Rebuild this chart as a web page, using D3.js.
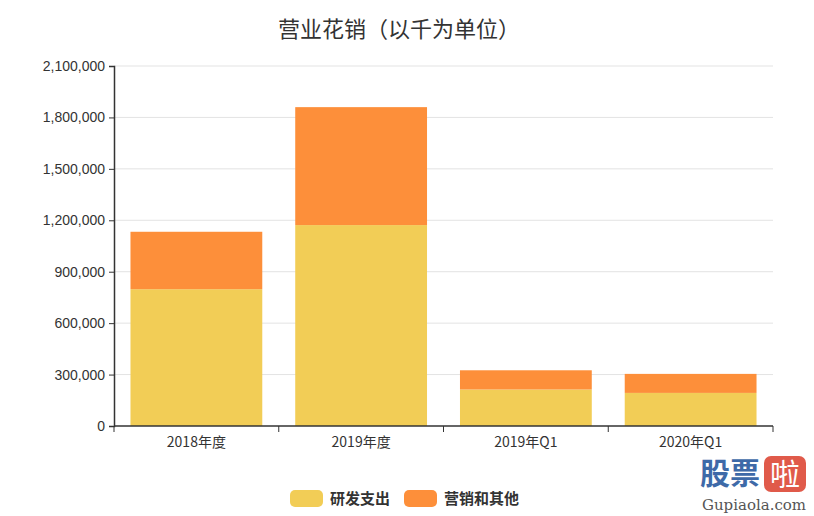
<!DOCTYPE html>
<html>
<head>
<meta charset="utf-8">
<script src="https://cdn.jsdelivr.net/npm/d3@7"></script>
<style>
    body { margin: 0; background: #fff; }
    text { font-family: "Noto Sans CJK SC", "Noto Sans", sans-serif; }
</style>
</head>
<body>
<div id="chart"></div>
<script>
// values in thousands
const categories = ['2018年度', '2019年度', '2019年Q1', '2020年Q1'];
const seriesNames = ['研发支出', '营销和其他'];
const research = [798000, 1172000, 213000, 193000];
const marketing = [335000, 688000, 112000, 111000];
const yTicks = [0, 300000, 600000, 900000, 1200000, 1500000, 1800000, 2100000];
const colors = ['#f2cd56', '#fd8f3a'];

const width = 814, height = 516;
const margin = { top: 66, right: 41, bottom: 90, left: 114 };
const innerW = width - margin.left - margin.right;
const innerH = height - margin.top - margin.bottom;

const svg = d3.select('#chart').append('svg')
    .attr('width', width)
    .attr('height', height);

svg.append('text')
    .attr('x', 399)
    .attr('y', 37)
    .attr('text-anchor', 'middle')
    .attr('font-size', 22)
    .attr('fill', '#333')
    .text('营业花销（以千为单位）');

const chart = svg.append('g')
    .attr('transform', `translate(${margin.left},${margin.top})`);

const xScale = d3.scaleBand()
    .domain(categories)
    .range([0, innerW])
    .paddingInner(0.2)
    .paddingOuter(0.1);

const yScale = d3.scaleLinear()
    .domain([0, 2100000])
    .range([innerH, 0]);

// grid lines
chart.append('g')
    .selectAll('line')
    .data(yTicks.slice(1))
    .join('line')
    .attr('x1', 0)
    .attr('x2', innerW)
    .attr('y1', d => yScale(d))
    .attr('y2', d => yScale(d))
    .attr('stroke', '#e3e3e3')
    .attr('stroke-width', 1);

const rows = categories.map((c, i) => ({ cat: c, research: research[i], marketing: marketing[i] }));
const stacked = d3.stack().keys(['research', 'marketing'])(rows);

chart.selectAll('.layer')
    .data(stacked)
    .join('g')
    .attr('class', 'layer')
    .attr('fill', (d, i) => colors[i])
    .selectAll('rect')
    .data(d => d)
    .join('rect')
    .attr('x', d => xScale(d.data.cat))
    .attr('width', xScale.bandwidth())
    .attr('y', d => yScale(d[1]))
    .attr('height', d => yScale(d[0]) - yScale(d[1]));

const yAxis = d3.axisLeft(yScale)
    .tickValues(yTicks)
    .tickFormat(d3.format(','))
    .tickSize(5)
    .tickPadding(4);

const yAxisGroup = chart.append('g').call(yAxis);
yAxisGroup.select('.domain').attr('stroke', '#333').attr('stroke-width', 1.5);
yAxisGroup.selectAll('line').attr('stroke', '#333');
yAxisGroup.selectAll('text')
    .attr('font-size', 14)
    .attr('fill', '#333')
    .style('font-family', '"Liberation Sans", Arial, sans-serif');

// x axis with ticks at band boundaries
const xAxisGroup = chart.append('g')
    .attr('transform', `translate(0,${innerH})`);
xAxisGroup.append('line')
    .attr('x1', 0).attr('x2', innerW)
    .attr('stroke', '#333').attr('stroke-width', 1.5);
const step = innerW / categories.length;
xAxisGroup.selectAll('.xtick')
    .data(d3.range(categories.length + 1))
    .join('line')
    .attr('class', 'xtick')
    .attr('x1', d => d * step).attr('x2', d => d * step)
    .attr('y1', 0).attr('y2', 6)
    .attr('stroke', '#333');
xAxisGroup.selectAll('.xlabel')
    .data(categories)
    .join('text')
    .attr('class', 'xlabel')
    .attr('x', d => xScale(d) + xScale.bandwidth() / 2)
    .attr('y', 21)
    .attr('text-anchor', 'middle')
    .attr('font-size', 14)
    .attr('fill', '#333')
    .text(d => d);

// legend
const legend = svg.append('g').attr('transform', 'translate(290,490)');
const legendX = [0, 114];
seriesNames.forEach((name, i) => {
    const g = legend.append('g').attr('transform', `translate(${legendX[i]},0)`);
    g.append('rect')
        .attr('width', 33).attr('height', 17)
        .attr('rx', 5)
        .attr('fill', colors[i]);
    g.append('text')
        .attr('x', 40).attr('y', 14)
        .attr('font-size', 15)
        .attr('font-weight', 'bold')
        .attr('fill', '#333')
        .text(name);
});

// watermark
const wm = svg.append('g').attr('transform', 'translate(700,456)');
wm.append('text')
    .attr('x', 0).attr('y', 28)
    .attr('font-size', 30)
    .attr('font-weight', 'bold')
    .attr('fill', '#3e6aa8')
    .text('股票');
wm.append('rect')
    .attr('x', 64).attr('y', 0)
    .attr('width', 42).attr('height', 36)
    .attr('rx', 7)
    .attr('fill', '#e05a4a');
wm.append('text')
    .attr('x', 85).attr('y', 29)
    .attr('text-anchor', 'middle')
    .attr('font-size', 30)
    .attr('fill', '#fff')
    .text('啦');
wm.append('text')
    .attr('x', 54).attr('y', 54)
    .attr('text-anchor', 'middle')
    .attr('font-size', 15)
    .attr('fill', '#555')
    .style('font-family', '"DejaVu Serif", "Liberation Serif", serif')
    .text('Gupiaola.com');
</script>
</body>
</html>
